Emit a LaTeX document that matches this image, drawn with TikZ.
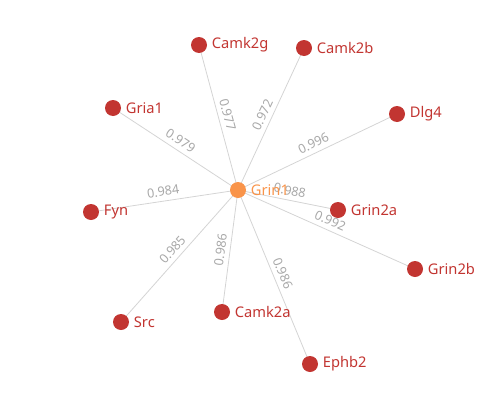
\documentclass[tikz,border=0pt]{standalone}
\usepackage{fontspec}
\setmainfont{Noto Sans}
\definecolor{nodered}{HTML}{C23531}
\definecolor{nodeorange}{HTML}{F9944A}
\definecolor{edgegray}{HTML}{D4D4D4}
\definecolor{labgray}{HTML}{A8A8A8}
\begin{document}
\begin{tikzpicture}[x=0.75pt,y=-0.75pt,
  dot/.style={circle,fill=nodered,minimum size=12pt,inner sep=0pt},
  hub/.style={circle,fill=nodeorange,minimum size=12pt,inner sep=0pt},
  nlab/.style={anchor=west,text=nodered,font=\fontsize{11}{12}\selectfont,inner sep=0pt},
  hlab/.style={anchor=west,text=nodeorange,font=\fontsize{11}{12}\selectfont,inner sep=0pt},
  link/.style={draw=edgegray,line width=0.6pt},
  wlab/.style={midway,sloped,above=2.8pt,text=labgray,font=\fontsize{9.5}{10}\selectfont,inner sep=0.5pt}]
\useasboundingbox (0,0) rectangle (500,400);
% coordinates of nodes
\coordinate (pg) at (238,190);
\coordinate (pCg) at (199,45);
\coordinate (pCb) at (304,48);
\coordinate (pGa) at (113,108);
\coordinate (pD) at (397,114);
\coordinate (pF) at (91,212);
\coordinate (pG2a) at (338,210);
\coordinate (pG2b) at (415,269);
\coordinate (pS) at (121,322);
\coordinate (pCa) at (222,312);
\coordinate (pE) at (310,364);
% edges
\draw[link] (pCg) -- (pg) node[wlab]{0.977};
\draw[link] (pg) -- (pCb) node[wlab]{0.972};
\draw[link] (pGa) -- (pg) node[wlab]{0.979};
\draw[link] (pg) -- (pD) node[wlab]{0.996};
\draw[link] (pF) -- (pg) node[wlab]{0.984};
\draw[link] (pg) -- (pG2a) node[wlab]{0.988};
\draw[link] (pg) -- (pG2b) node[wlab]{0.992};
\draw[link] (pS) -- (pg) node[wlab]{0.985};
\draw[link] (pCa) -- (pg) node[wlab]{0.986};
\draw[link] (pg) -- (pE) node[wlab]{0.986};
% nodes
\node[hub] (g) at (pg) {};
\node[dot] (Cg) at (pCg) {};
\node[dot] (Cb) at (pCb) {};
\node[dot] (Ga) at (pGa) {};
\node[dot] (D) at (pD) {};
\node[dot] (F) at (pF) {};
\node[dot] (G2a) at (pG2a) {};
\node[dot] (G2b) at (pG2b) {};
\node[dot] (S) at (pS) {};
\node[dot] (Ca) at (pCa) {};
\node[dot] (E) at (pE) {};
% labels
\node[hlab] (lg) at ([xshift=9.5pt]g.center) {Grin1};
\node[nlab] (lCg) at ([xshift=9.5pt]Cg.center) {Camk2g};
\node[nlab] (lCb) at ([xshift=9.5pt]Cb.center) {Camk2b};
\node[nlab] (lGa) at ([xshift=9.5pt]Ga.center) {Gria1};
\node[nlab] (lD) at ([xshift=9.5pt]D.center) {Dlg4};
\node[nlab] (lF) at ([xshift=9.5pt]F.center) {Fyn};
\node[nlab] (lG2a) at ([xshift=9.5pt]G2a.center) {Grin2a};
\node[nlab] (lG2b) at ([xshift=9.5pt]G2b.center) {Grin2b};
\node[nlab] (lS) at ([xshift=9.5pt]S.center) {Src};
\node[nlab] (lCa) at ([xshift=9.5pt]Ca.center) {Camk2a};
\node[nlab] (lE) at ([xshift=9.5pt]E.center) {Ephb2};
\end{tikzpicture}
\end{document}
